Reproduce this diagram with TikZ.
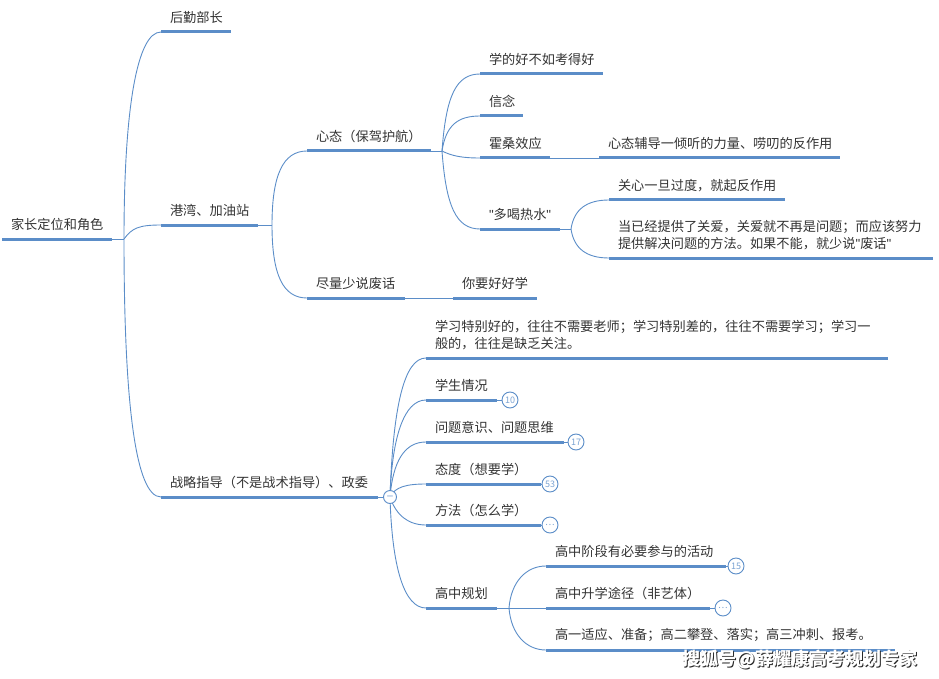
\documentclass[tikz,border=0pt]{standalone}
\usepackage{fontspec}
\setmainfont{Noto Sans CJK SC}
\newfontfamily\quotefont{Liberation Sans}
\usepackage{xcolor}
\usetikzlibrary{backgrounds}
\definecolor{linkblue}{HTML}{5B8DC8}
\definecolor{inktext}{HTML}{333333}
\tikzset{
	topicbar/.style={draw=linkblue, line width=3pt},
	topic/.style={anchor=south west, inner xsep=9pt, inner ysep=8.5pt, outer sep=0pt, align=left,
		text=inktext, font=\fontsize{13.2}{17}\selectfont, text width=#1pt-18pt},
	link/.style={draw=linkblue, line width=0.9pt},
	badge/.style={circle, draw=linkblue, fill=white, line width=0.9pt, minimum size=16pt, inner sep=0pt,
		text=linkblue!80, font=\fontsize{9}{9}\selectfont},
	mark text/.style={font=\fontsize{18}{18}\selectfont\bfseries, anchor=center}
}
\newcommand{\qmark}{{\quotefont "}}
\begin{document}
\begin{tikzpicture}[x=1pt,y=-1pt]
	\useasboundingbox (0,0) rectangle (939,679);
	\node[topic=110] (root) at (2,239) {家长定位和角色};
	\node[topic=70] (B1) at (161,32) {后勤部长};
	\node[topic=97] (B2) at (161,225) {港湾、加油站};
	\node[topic=217] (B3) at (161,497) {战略指导（不是战术指导）、政委};
	\node[topic=124] (C1) at (307,151) {心态（保驾护航）};
	\node[topic=98] (C2) at (307,298) {尽量少说废话};
	\node[topic=84] (C3) at (453,298) {你要好好学};
	\node[topic=123] (D1) at (480,74) {学的好不如考得好};
	\node[topic=43] (D2) at (480,116) {信念};
	\node[topic=70] (D3) at (480,158) {霍桑效应};
	\node[topic=80] (D4) at (480,229) {\qmark 多喝热水\qmark};
	\node[topic=241] (D5) at (599,158) {心态辅导一倾听的力量、唠叨的反作用};
	\node[topic=176] (E1) at (609,200) {关心一旦过度，就起反作用};
	\node[topic=324] (E2) at (609,258) {当已经提供了关爱，关爱就不再是问题；而应该努力\\提供解决问题的方法。如果不能，就少说\qmark 废话\qmark};
	\node[topic=462] (F1) at (426,358) {学习特别好的，往往不需要老师；学习特别差的，往往不需要学习；学习一\\般的，往往是缺乏关注。};
	\node[topic=71] (F2) at (426,400) {学生情况};
	\node[topic=138] (F3) at (426,442) {问题意识、问题思维};
	\node[topic=115] (F4) at (426,484) {态度（想要学）};
	\node[topic=115] (F5) at (426,525) {方法（怎么学）};
	\node[topic=71] (F6) at (426,608) {高中规划};
	\node[topic=180] (G1) at (546,566) {高中阶段有必要参与的活动};
	\node[topic=164] (G2) at (546,608) {高中升学途径（非艺体）};
	\node[topic=349] (G3) at (546,650) {高一适应、准备；高二攀登、落实；高三冲刺、报考。};
	% fork points
	\coordinate (forkA) at (124,239);
	\coordinate (forkB) at (272,225);
	\coordinate (forkC) at (442,151);
	\coordinate (forkD) at (571,229);
	\coordinate (forkG) at (509,608);
	\node[badge, minimum size=13pt, font=\fontsize{7}{7}\selectfont\bfseries] (fold) at (390,497) {—};
	\node[badge] (badgeF2) at (510,400) {10};
	\node[badge] (badgeF3) at (576,442) {17};
	\node[badge] (badgeF4) at (550,484) {53};
	\node[badge] (badgeF5) at (550,525) {…};
	\node[badge] (badgeG1) at (736,566) {15};
	\node[badge] (badgeG2) at (723,608) {…};
	\begin{scope}[on background layer]
		\foreach \n in {root,B1,B2,B3,C1,C2,C3,D1,D2,D3,D4,D5,E1,E2,F1,F2,F3,F4,F5,F6,G1,G2,G3}
			\draw[topicbar] (\n.south west) -- (\n.south east);
		\draw[link] (root.south east) -- (forkA);
		\draw[link] (forkA) .. controls +(0,-130) and +(-24,0) .. (B1.south west);
		\draw[link] (forkA) .. controls +(8,-11) and +(-22,0) .. (B2.south west);
		\draw[link] (forkA) .. controls +(0,160) and +(-26,0) .. (B3.south west);
		\draw[link] (B2.south east) -- (forkB);
		\draw[link] (forkB) .. controls +(0,-50) and +(-24,0) .. (C1.south west);
		\draw[link] (forkB) .. controls +(0,50) and +(-24,0) .. (C2.south west);
		\draw[link] (C2.south east) -- (C3.south west);
		\draw[link] (C1.south east) -- (forkC);
		\draw[link] (forkC) .. controls +(4,-55) and +(-24,0) .. (D1.south west);
		\draw[link] (forkC) .. controls +(4,-26) and +(-22,0) .. (D2.south west);
		\draw[link] (forkC) .. controls +(10,5) and +(-18,0) .. (D3.south west);
		\draw[link] (forkC) .. controls +(4,55) and +(-24,0) .. (D4.south west);
		\draw[link] (D3.south east) -- (D5.south west);
		\draw[link] (D4.south east) -- (forkD);
		\draw[link] (forkD) .. controls +(3,-20) and +(-22,0) .. (E1.south west);
		\draw[link] (forkD) .. controls +(3,20) and +(-22,0) .. (E2.south west);
		\draw[link] (B3.south east) -- (fold);
		\draw[link] (fold.center) .. controls +(3,-90) and +(-22,0) .. (F1.south west);
		\draw[link] (fold.center) .. controls +(2,-60) and +(-22,0) .. (F2.south west);
		\draw[link] (fold.center) .. controls +(3,-35) and +(-22,0) .. (F3.south west);
		\draw[link] (fold.center) .. controls +(5,-10) and +(-20,0) .. (F4.south west);
		\draw[link] (fold.center) .. controls +(6,18) and +(-18,0) .. (F5.south west);
		\draw[link] (fold.center) .. controls +(2,70) and +(-22,0) .. (F6.south west);
		\draw[link] (F2.south east) -- (badgeF2);
		\draw[link] (F3.south east) -- (badgeF3);
		\draw[link] (F4.south east) -- (badgeF4);
		\draw[link] (F5.south east) -- (badgeF5);
		\draw[link] (F6.south east) -- (forkG);
		\draw[link] (forkG) .. controls +(2,-26) and +(-20,0) .. (G1.south west);
		\draw[link] (forkG) -- (G2.south west);
		\draw[link] (forkG) .. controls +(2,26) and +(-20,0) .. (G3.south west);
		\draw[link] (G1.south east) -- (badgeG1);
		\draw[link] (G2.south east) -- (badgeG2);
	\end{scope}
	% watermark
	\node[mark text, text=black!85] (markshade) at (801,660) {搜狐号@薛耀康高考规划专家};
	\node[mark text, text=white] (marktop) at (800,659) {搜狐号@薛耀康高考规划专家};
\end{tikzpicture}
\end{document}
